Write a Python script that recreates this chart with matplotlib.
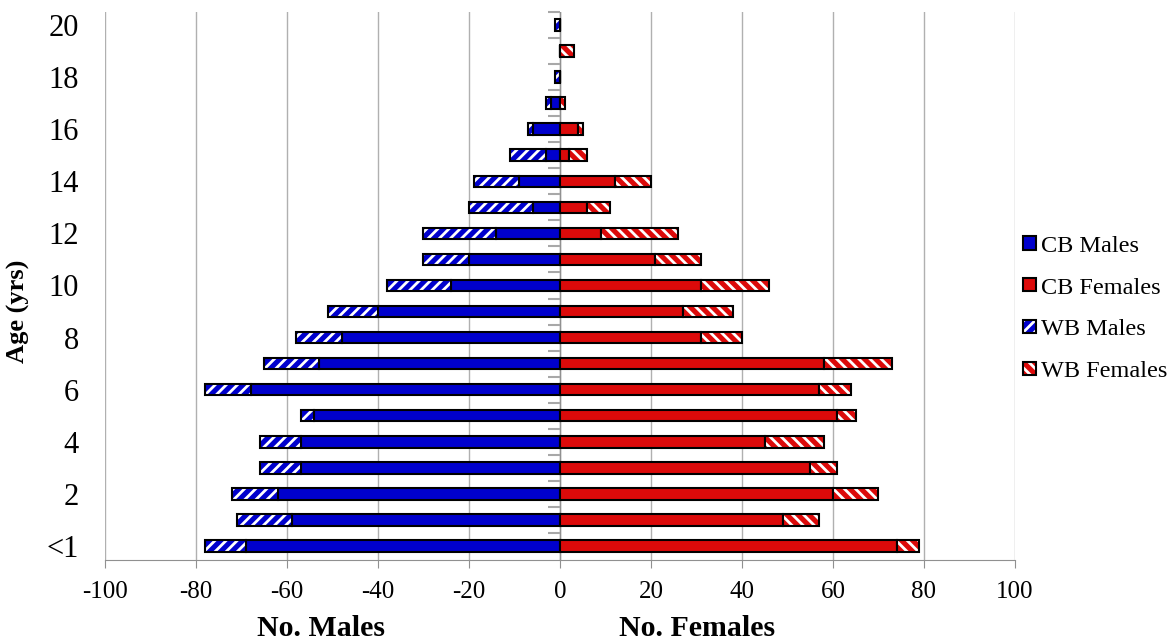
import matplotlib
matplotlib.use("Agg")
import matplotlib.pyplot as plt
import matplotlib.patches as mpatches
import numpy as np

# ── Data (rows: age <1, 1, 2, ... 20) ─────────────────────────────────────────
age_labels = ["<1", "2", "4", "6", "8", "10", "12", "14", "16", "18", "20"]
cb_males   = [69, 59, 62, 57, 57, 54, 68, 53, 48, 40, 24, 20, 14, 6, 9, 3, 6, 2, 0, 0, 0]
wb_males   = [9, 12, 10, 9, 9, 3, 10, 12, 10, 11, 14, 10, 16, 14, 10, 8, 1, 1, 1, 0, 1]
cb_females = [74, 49, 60, 55, 45, 61, 57, 58, 31, 27, 31, 21, 9, 6, 12, 2, 4, 0, 0, 0, 0]
wb_females = [5, 8, 10, 6, 13, 4, 7, 15, 9, 11, 15, 10, 17, 5, 8, 4, 1, 1, 0, 3, 0]

BLUE = "#0000cc"
RED = "#dc0a0a"
GRID = "#b0b0b0"

plt.rcParams["font.family"] = ["Liberation Serif", "DejaVu Serif"]
plt.rcParams["hatch.linewidth"] = 2.0
plt.rcParams["axes.unicode_minus"] = False

y = np.arange(len(cb_males))
cbm = -np.array(cb_males)
wbm = -np.array(wb_males)
cbf = np.array(cb_females)
wbf = np.array(wb_females)

fig = plt.figure(figsize=(11.76, 6.42), dpi=100)
ax = fig.add_axes([0.0893, 0.128, 0.863 - 0.0893, 0.981 - 0.128])

h = 0.45
lw = 1.5
ax.barh(y, cbm, height=h, color=BLUE, edgecolor="black", linewidth=lw, zorder=3)
ax.barh(y, cbf, height=h, color=RED, edgecolor="black", linewidth=lw, zorder=3)
# hatched WB bars: white stripes first, black outline on top
ax.barh(y, wbm, left=cbm, height=h, color=BLUE, edgecolor="white",
        hatch="///", linewidth=0, zorder=3)
ax.barh(y, wbm, left=cbm, height=h, facecolor="none", edgecolor="black",
        linewidth=lw, zorder=4)
ax.barh(y, wbf, left=cbf, height=h, color=RED, edgecolor="white",
        hatch="\\\\\\", linewidth=0, zorder=3)
ax.barh(y, wbf, left=cbf, height=h, facecolor="none", edgecolor="black",
        linewidth=lw, zorder=4)

# ── Axes ──────────────────────────────────────────────────────────────────────
ax.set_xlim(-100, 100)
ax.set_ylim(-0.54, 20.5)
ax.set_xticks(np.arange(-100, 101, 20))
ax.set_yticks(np.arange(0, 21, 2))
ax.set_yticklabels(age_labels)
ax.grid(axis="x", color=GRID, linewidth=1)
ax.set_axisbelow(True)
for s in ["top", "right", "left"]:
    ax.spines[s].set_visible(False)
ax.spines["bottom"].set_color("#909090")
ax.tick_params(axis="x", length=6, color="#909090", labelsize=18, pad=9)
ax.tick_params(axis="y", length=0, labelsize=22, pad=19)

# y axis line with category ticks at x = 0
ax.axvline(0, color="#909090", linewidth=1, zorder=2)
ax.plot(np.zeros(len(y)), y + 0.5, linestyle="none", marker=0,
        markersize=9, markeredgewidth=1.5, color="#a8a8a8", zorder=2.5,
        clip_on=False)

# ── Labels ────────────────────────────────────────────────────────────────────
fig.text(321 / 1176, 1 - 628 / 642, "No. Males", fontsize=21.5, fontweight="bold",
         ha="center", va="center")
fig.text(697 / 1176, 1 - 628 / 642, "No. Females", fontsize=21.5, fontweight="bold",
         ha="center", va="center")
fig.text(18 / 1176, 1 - 311 / 642, "Age (yrs)", fontsize=19, fontweight="bold",
         ha="center", va="center", rotation=90)

# ── Legend ────────────────────────────────────────────────────────────────────
border = dict(facecolor="none", edgecolor="black", linewidth=lw)
handles = [
    mpatches.Patch(facecolor=BLUE, edgecolor="black", linewidth=lw),
    mpatches.Patch(facecolor=RED, edgecolor="black", linewidth=lw),
    (mpatches.Patch(facecolor=BLUE, edgecolor="white", hatch="///", linewidth=0),
     mpatches.Patch(**border)),
    (mpatches.Patch(facecolor=RED, edgecolor="white", hatch="\\\\\\", linewidth=0),
     mpatches.Patch(**border)),
]
labels = ["CB Males", "CB Females", "WB Males", "WB Females"]
fig.legend(handles, labels, loc="center left",
           bbox_to_anchor=(1023 / 1176, 1 - 309 / 642), frameon=False,
           fontsize=17.5, handlelength=0.55, handleheight=0.45,
           handletextpad=0.2, labelspacing=0.86, borderaxespad=0,
           borderpad=0)

fig.savefig("out.png", dpi=100)
